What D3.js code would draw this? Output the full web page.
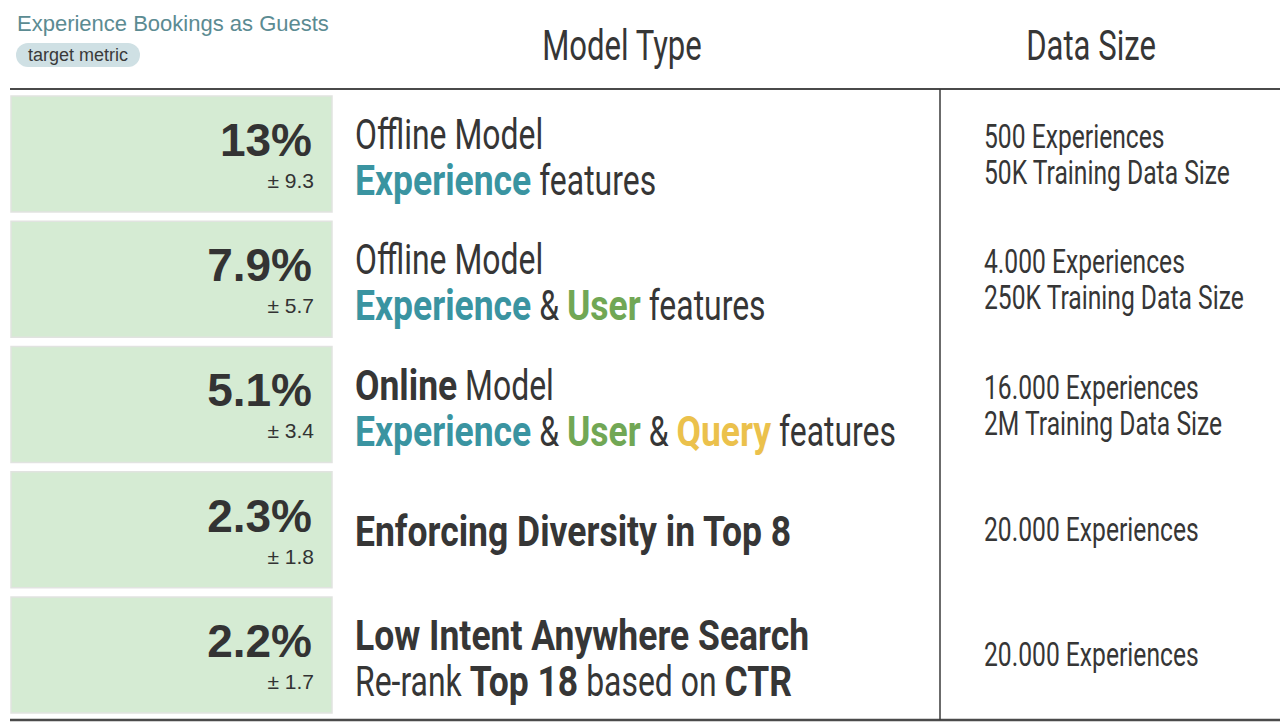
<!DOCTYPE html>
<html>
<head>
<meta charset="utf-8">
<script src="https://cdn.jsdelivr.net/npm/d3@7"></script>
<style>
  body { margin: 0; background: #fff; }
  svg { display: block; }
  text { white-space: pre; }
</style>
</head>
<body>
<svg id="chart"></svg>
<script>
// lift on the target metric, one per experiment
const lifts = [13, 7.9, 5.1, 2.3, 2.2];
const liftErrors = [9.3, 5.7, 3.4, 1.8, 1.7];

// model description, each line is a list of [text, style] pieces
const modelLines = [
  [[['Offline Model', 'light']],
   [['Experience', 'exp'], [' features', 'light']]],
  [[['Offline Model', 'light']],
   [['Experience', 'exp'], [' & ', 'light'], ['User', 'user'], [' features', 'light']]],
  [[['Online', 'bold'], [' Model', 'light']],
   [['Experience', 'exp'], [' & ', 'light'], ['User', 'user'], [' & ', 'light'], ['Query', 'query'], [' features', 'light']]],
  [[['Enforcing Diversity in Top 8', 'bold']]],
  [[['Low Intent Anywhere Search', 'bold']],
   [['Re-rank ', 'light'], ['Top 18', 'bold'], [' based on ', 'light'], ['CTR', 'bold']]]
];

const dataSizeLines = [
  ['500 Experiences', '50K Training Data Size'],
  ['4.000 Experiences', '250K Training Data Size'],
  ['16.000 Experiences', '2M Training Data Size'],
  ['20.000 Experiences'],
  ['20.000 Experiences']
];

const headers = ['Model Type', 'Data Size'];
const metricTitle = 'Experience Bookings as Guests';
const metricTag = 'target metric';

const width = 1280, height = 728;
const dark = '#363636';
// squeeze narrows the sans so it reads like a condensed face
const pieceStyles = {
  light: { weight: 400, fill: dark, squeeze: 0.76 },
  bold:  { weight: 700, fill: dark, squeeze: 0.845 },
  exp:   { weight: 700, fill: '#3a94a1', squeeze: 0.845 },
  user:  { weight: 700, fill: '#71a755', squeeze: 0.845 },
  query: { weight: 700, fill: '#ebc14c', squeeze: 0.845 }
};
const condensed = 'Roboto, "Open Sans", sans-serif';
const squeeze = 0.74;
const helv = '"Liberation Sans", Arial, Helvetica, sans-serif';

const svg = d3.select('#chart').attr('width', width).attr('height', height);

const rows = d3.range(lifts.length);
const y = d3.scaleBand().domain(rows).range([96, 713]).paddingInner(0.074);
const boxLeft = 11, boxRight = 332;
const modelX = 355, dataX = 984, dividerX = 940;
const topLineY = 89, bottomLineY = 720;

// title and tag
svg.append('text')
  .attr('x', 17).attr('y', 31)
  .attr('font-family', helv).attr('font-size', 22)
  .attr('fill', '#5b8b92')
  .text(metricTitle);

svg.append('rect')
  .attr('x', 16).attr('y', 43).attr('width', 124).attr('height', 24).attr('rx', 12)
  .attr('fill', '#cfe0e4');
svg.append('text')
  .attr('x', 28).attr('y', 61)
  .attr('font-family', helv).attr('font-size', 18)
  .attr('fill', '#3a3a3a')
  .text(metricTag);

// column headers
const headerX = [622, 1091];
svg.selectAll('.header')
  .data(headers)
  .enter()
  .append('text')
  .attr('class', 'header')
  .attr('transform', (d, i) => `translate(${headerX[i]},60) scale(${squeeze},1)`)
  .attr('text-anchor', 'middle')
  .attr('font-family', condensed).attr('font-size', 42).attr('font-weight', 400)
  .attr('fill', dark)
  .text(d => d);

// rules
svg.append('line')
  .attr('x1', 10).attr('x2', width).attr('y1', topLineY).attr('y2', topLineY)
  .attr('stroke', '#4a4a4a').attr('stroke-width', 2);
svg.append('line')
  .attr('x1', 10).attr('x2', width).attr('y1', bottomLineY).attr('y2', bottomLineY)
  .attr('stroke', '#4a4a4a').attr('stroke-width', 2.5);
svg.append('line')
  .attr('x1', dividerX).attr('x2', dividerX).attr('y1', topLineY).attr('y2', bottomLineY)
  .attr('stroke', '#3a3a3a').attr('stroke-width', 1.5);

const row = svg.selectAll('.row')
  .data(rows)
  .enter()
  .append('g')
  .attr('class', 'row')
  .attr('transform', d => `translate(0,${y(d)})`);

const bw = y.bandwidth();
const mid = bw / 2;

// green metric boxes
row.append('rect')
  .attr('x', boxLeft).attr('width', boxRight - boxLeft)
  .attr('height', bw)
  .attr('fill', '#d5ebd3')
  .attr('stroke', '#e1e3e0').attr('stroke-width', 1.5);

row.append('text')
  .attr('x', 312).attr('y', mid + 2)
  .attr('text-anchor', 'end')
  .attr('font-family', helv).attr('font-size', 46).attr('font-weight', 700)
  .attr('fill', '#333')
  .text(d => `${lifts[d]}%`);

row.append('text')
  .attr('x', 314).attr('y', mid + 34)
  .attr('text-anchor', 'end')
  .attr('font-family', helv).attr('font-size', 21)
  .attr('fill', '#333')
  .text(d => `\u00b1 ${liftErrors[d]}`);

row.each(function (d) {
  const g = d3.select(this);

  // model type text, laid out piece by piece
  const lines = modelLines[d];
  const offsets = lines.length === 1 ? [mid + 16] : [mid - 5, mid + 41];
  lines.forEach((pieces, li) => {
    let cursor = modelX;
    pieces.forEach(p => {
      const st = pieceStyles[p[1]];
      const t = g.append('text')
        .attr('transform', `translate(${cursor},${offsets[li]}) scale(${st.squeeze},1)`)
        .attr('font-family', condensed).attr('font-size', 42)
        .attr('font-weight', st.weight)
        .attr('fill', st.fill)
        .text(p[0]);
      cursor += t.node().getComputedTextLength() * st.squeeze;
    });
  });

  // data size text
  const sizes = dataSizeLines[d];
  const dOffsets = sizes.length === 1 ? [mid + 11] : [mid - 6, mid + 30];
  sizes.forEach((s, li) => {
    g.append('text')
      .attr('transform', `translate(${dataX},${dOffsets[li]}) scale(0.725,1)`)
      .attr('font-family', condensed).attr('font-size', 34).attr('font-weight', 400)
      .attr('fill', dark)
      .text(s);
  });
});
</script>
</body>
</html>
